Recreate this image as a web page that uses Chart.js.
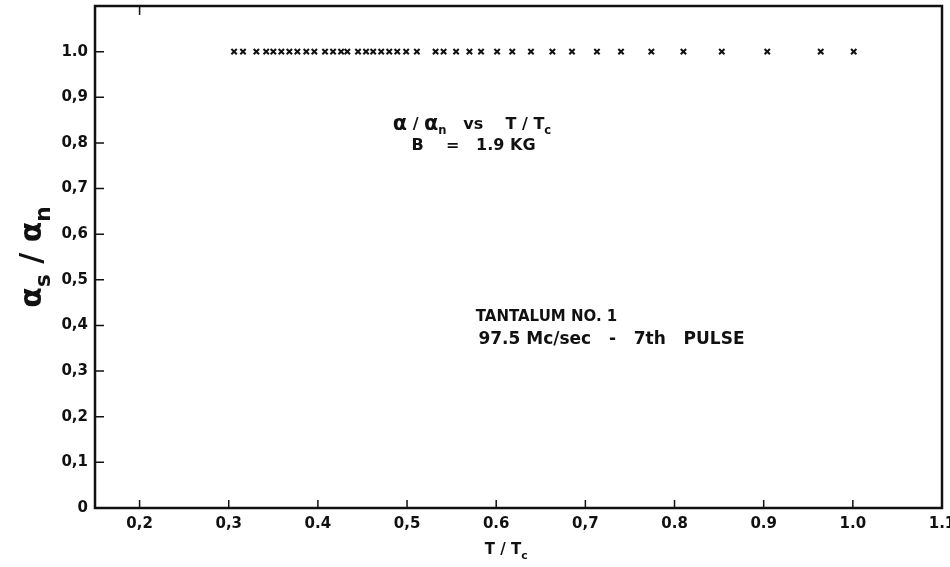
<!DOCTYPE html>
<html>
<head>
<meta charset="utf-8">
<script src="https://cdn.jsdelivr.net/npm/chart.js@4.4.0/dist/chart.umd.min.js"></script>
<style>
  html, body { margin: 0; padding: 0; background: #fff; }
  canvas { display: block; }
</style>
</head>
<body>
<canvas id="chart" width="950" height="567"></canvas>
<script>
// T / Tc of each measured point (all at alpha_s / alpha_n = 1.0)
const tRatio = [0.306, 0.316, 0.331, 0.342, 0.350, 0.359, 0.368, 0.377, 0.387, 0.396,
                0.408, 0.417, 0.426, 0.433, 0.445, 0.454, 0.462, 0.471, 0.480, 0.489,
                0.499, 0.511, 0.532, 0.541, 0.555, 0.570, 0.583, 0.601, 0.618, 0.639,
                0.663, 0.685, 0.713, 0.740, 0.774, 0.810, 0.853, 0.904, 0.964, 1.001];
const alphaRatio = [1, 1, 1, 1, 1, 1, 1, 1, 1, 1,
                    1, 1, 1, 1, 1, 1, 1, 1, 1, 1,
                    1, 1, 1, 1, 1, 1, 1, 1, 1, 1,
                    1, 1, 1, 1, 1, 1, 1, 1, 1, 1];
const xTicks = [0.2, 0.3, 0.4, 0.5, 0.6, 0.7, 0.8, 0.9, 1.0, 1.1];
const xTickLabels = ['0,2', '0,3', '0.4', '0,5', '0.6', '0,7', '0.8', '0.9', '1.0', '1.1'];
const yTicks = [0, 0.1, 0.2, 0.3, 0.4, 0.5, 0.6, 0.7, 0.8, 0.9, 1.0];
const yTickLabels = ['0', '0,1', '0,2', '0,3', '0,4', '0,5', '0,6', '0,7', '0,8', '0,9', '1.0'];

const FONT = '"DejaVu Sans", sans-serif';
const INK = '#111';

// draw text made of [text, isSubscript, scale] parts, left aligned, middle baseline
function drawRich(ctx, x, y, parts, size) {
  let cx = x;
  parts.forEach(([txt, sub, scale]) => {
    const s = sub ? size * 0.72 : size * (scale || 1);
    ctx.font = 'bold ' + s + 'px ' + FONT;
    ctx.fillText(txt, cx, sub ? y + size * 0.38 : y);
    cx += ctx.measureText(txt).width;
  });
  return cx - x;
}
function richWidth(ctx, parts, size) {
  let w = 0;
  parts.forEach(([txt, sub, scale]) => {
    const s = sub ? size * 0.72 : size * (scale || 1);
    ctx.font = 'bold ' + s + 'px ' + FONT;
    w += ctx.measureText(txt).width;
  });
  return w;
}

const frame = {
  id: 'frame',
  afterDraw(chart) {
    const { ctx, chartArea: a, scales: { x, y } } = chart;
    ctx.save();
    ctx.strokeStyle = INK;
    ctx.lineWidth = 2.5;
    ctx.strokeRect(a.left, a.top, a.right - a.left, a.bottom - a.top);
    ctx.lineWidth = 1.5;
    ctx.beginPath();
    x.ticks.forEach(t => {
      const px = x.getPixelForValue(t.value);
      ctx.moveTo(px, a.bottom);
      ctx.lineTo(px, a.bottom - 8);
    });
    y.ticks.forEach(t => {
      const py = y.getPixelForValue(t.value);
      ctx.moveTo(a.left, py);
      ctx.lineTo(a.left + 9, py);
    });
    const tx = x.getPixelForValue(0.2);
    ctx.moveTo(tx, a.top);
    ctx.lineTo(tx, a.top + 9);
    ctx.stroke();

    ctx.fillStyle = INK;
    ctx.textBaseline = 'middle';
    ctx.textAlign = 'left';
    drawRich(ctx, x.getPixelForValue(0.484), y.getPixelForValue(0.84),
      [['α', false, 1.3], [' / ', false], ['α', false, 1.3], ['n', true], ['   vs    T / T', false], ['c', true]], 16);
    drawRich(ctx, x.getPixelForValue(0.505), y.getPixelForValue(0.793),
      [['B    =   1.9 KG', false]], 16);
    drawRich(ctx, x.getPixelForValue(0.577), y.getPixelForValue(0.419),
      [['TANTALUM NO. 1', false]], 15);
    drawRich(ctx, x.getPixelForValue(0.580), y.getPixelForValue(0.369),
      [['97.5 Mc/sec   -   7th   PULSE', false]], 17);

    // x axis title
    const xt = [['T / T', false], ['c', true]];
    drawRich(ctx, x.getPixelForValue(0.6) + 10 - richWidth(ctx, xt, 15) / 2, 550, xt, 15);

    // y axis title, rotated
    const yt = [['α', false], ['s', true], [' / ', false], ['α', false], ['n', true]];
    ctx.save();
    ctx.translate(33, y.getPixelForValue(0.55));
    ctx.rotate(-Math.PI / 2);
    drawRich(ctx, -richWidth(ctx, yt, 30) / 2, 0, yt, 30);
    ctx.restore();
    ctx.restore();
  }
};

new Chart(document.getElementById('chart'), {
  type: 'scatter',
  data: {
    datasets: [{
      data: tRatio.map((t, i) => ({ x: t, y: alphaRatio[i] })),
      pointStyle: 'crossRot',
      pointRadius: 3.8,
      borderColor: INK,
      borderWidth: 2
    }]
  },
  options: {
    responsive: false,
    animation: false,
    devicePixelRatio: 1,
    layout: { padding: { top: 6, right: 8, left: 0, bottom: 0 } },
    plugins: { legend: { display: false }, tooltip: { enabled: false } },
    scales: {
      x: {
        type: 'linear',
        min: 0.15,
        max: 1.1,
        afterBuildTicks: s => { s.ticks = xTicks.map(v => ({ value: v })); },
        afterFit: s => { s.height = 59; s.paddingLeft = 0; s.paddingRight = 0; },
        grid: { display: false, drawTicks: false },
        border: { display: false },
        ticks: {
          autoSkip: false,
          maxRotation: 0,
          padding: 7,
          color: INK,
          font: { family: FONT, size: 15, weight: 'bold' },
          callback: (v, i) => xTickLabels[i]
        }
      },
      y: {
        min: 0,
        max: 1.1,
        afterBuildTicks: s => { s.ticks = yTicks.map(v => ({ value: v })); },
        afterFit: s => { s.width = 95; s.paddingTop = 0; s.paddingBottom = 0; },
        grid: { display: false, drawTicks: false },
        border: { display: false },
        ticks: {
          autoSkip: false,
          padding: 7,
          color: INK,
          font: { family: FONT, size: 15, weight: 'bold' },
          callback: (v, i) => yTickLabels[i]
        }
      }
    }
  },
  plugins: [frame]
});
</script>
</body>
</html>
